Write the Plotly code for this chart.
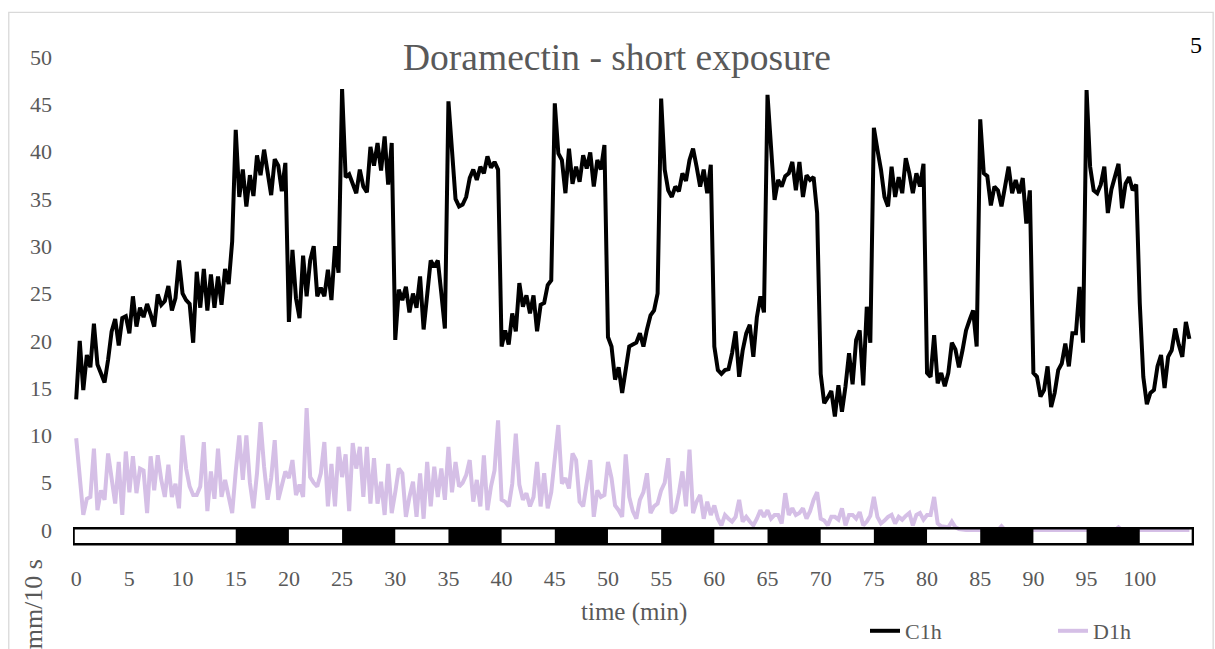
import plotly.graph_objects as go

# ---- data ----
SAMPLE_MIN = 1 / 3  # one sample every 20 s

c1h = [
    13.8, 20.0, 14.8, 18.5, 17.2, 21.8, 17.5, 16.4, 15.6, 18.0, 21.0, 22.3, 19.5, 22.4, 22.6,
    20.8, 24.7, 21.5, 23.5, 22.5, 23.9, 22.8, 21.5, 24.9, 23.8, 24.2, 25.8, 23.2, 24.5, 28.5,
    25.0, 24.3, 23.9, 19.8, 27.3, 23.5, 27.6, 23.2, 27.0, 23.5, 26.8, 23.8, 27.6, 26.0, 30.5,
    42.3, 35.2, 38.1, 34.2, 37.5, 35.3, 39.6, 37.5, 40.2, 37.5, 35.4, 39.2, 38.5, 35.8, 38.8,
    22.0, 29.6, 24.5, 22.4, 29.0, 24.7, 28.5, 30.0, 24.7, 25.6, 24.7, 27.5, 24.3, 30.0, 27.2,
    46.6, 37.3, 37.6, 36.6, 35.6, 38.1, 36.3, 35.7, 40.5, 38.5, 40.9, 38.0, 41.6, 36.5, 40.9,
    20.1, 25.4, 24.3, 25.7, 23.0, 25.0, 23.5, 26.8, 21.2, 25.0, 28.5, 27.8, 28.5, 25.0, 21.3,
    45.3, 39.8, 35.0, 34.2, 34.4, 35.2, 37.2, 38.1, 37.0, 38.4, 37.7, 39.5, 38.3, 38.9, 38.1,
    19.4, 21.1, 19.6, 22.9, 21.0, 26.1, 23.6, 24.8, 22.9, 24.8, 21.0, 23.8, 24.0, 25.9, 26.4,
    45.1, 39.8, 39.1, 35.6, 40.3, 36.6, 38.4, 36.8, 39.6, 38.2, 39.9, 36.3, 39.1, 38.1, 40.7,
    20.4, 19.4, 15.9, 17.2, 14.5, 16.8, 19.4, 19.6, 19.8, 20.8, 19.4, 21.2, 22.7, 23.2, 25.0,
    45.6, 38.1, 35.9, 35.2, 36.3, 35.8, 37.7, 36.9, 39.1, 40.3, 38.4, 36.3, 38.1, 35.6, 38.6,
    19.4, 16.9, 16.5, 16.9, 17.0, 18.7, 21.0, 16.2, 19.0, 20.8, 21.7, 18.3, 22.5, 24.7, 23.0,
    46.0, 39.8, 34.9, 37.0, 36.3, 37.4, 37.7, 38.9, 35.9, 38.9, 35.2, 37.5, 37.0, 37.3, 33.5,
    16.5, 13.4, 14.0, 14.7, 12.0, 15.3, 12.5, 15.2, 18.7, 15.4, 20.1, 21.1, 15.3, 23.6, 19.8,
    42.5, 40.2, 38.1, 35.2, 34.2, 38.4, 35.2, 37.3, 35.6, 39.3, 37.7, 35.6, 37.7, 36.3, 38.7,
    16.6, 16.2, 20.6, 15.5, 16.6, 15.2, 16.6, 19.8, 19.1, 17.2, 19.0, 21.1, 22.2, 23.2, 19.4,
    43.4, 37.7, 37.4, 34.3, 36.3, 35.9, 34.2, 36.3, 38.4, 35.6, 37.0, 35.6, 37.2, 32.4, 35.9,
    16.6, 16.2, 14.1, 14.8, 17.3, 13.0, 14.5, 16.9, 17.6, 19.7, 17.3, 20.8, 20.8, 25.7, 19.8,
    46.5, 38.4, 35.9, 35.6, 36.5, 38.4, 33.5, 36.0, 37.3, 38.7, 34.0, 36.6, 37.3, 35.9, 36.5,
    24.0, 16.2, 13.3, 14.5, 14.8, 17.3, 18.5, 15.0, 18.3, 19.0, 21.3, 19.6, 18.3, 22.0, 20.2,
]

d1h = [
    9.7, 5.0, 1.6, 3.3, 3.5, 8.6, 2.1, 4.2, 3.2, 8.1, 5.3, 2.8, 7.2, 1.6, 8.3,
    4.0, 7.8, 3.9, 6.5, 6.3, 1.8, 7.8, 4.2, 7.9, 5.3, 3.5, 6.9, 3.5, 4.9, 2.3,
    10.0, 6.5, 4.6, 3.7, 3.7, 4.6, 9.3, 2.0, 6.2, 3.3, 8.6, 3.5, 5.3, 3.7, 1.8,
    6.2, 10.0, 5.3, 10.0, 5.0, 2.3, 6.0, 11.4, 6.7, 3.2, 5.5, 9.5, 3.2, 4.6, 6.2,
    5.5, 7.4, 3.7, 4.8, 3.5, 12.9, 5.6, 5.0, 4.6, 6.0, 9.3, 2.5, 7.0, 2.5, 8.8,
    5.6, 8.0, 2.0, 9.2, 6.5, 8.8, 3.5, 8.8, 2.8, 7.6, 2.8, 5.1, 1.6, 7.0, 1.8,
    4.0, 6.5, 6.0, 1.4, 3.5, 5.1, 1.4, 6.0, 1.2, 7.2, 2.5, 6.7, 3.5, 6.5, 3.2,
    8.8, 4.0, 7.2, 4.6, 5.0, 5.8, 7.4, 3.0, 5.3, 2.5, 7.9, 2.1, 4.6, 6.3, 11.6,
    3.2, 3.0, 2.5, 4.9, 10.2, 4.8, 3.2, 3.9, 2.5, 3.5, 7.2, 2.5, 6.0, 2.3, 4.0,
    7.6, 11.1, 4.9, 5.5, 4.4, 8.1, 7.4, 3.0, 2.5, 4.9, 7.4, 1.4, 4.2, 3.5, 3.7,
    7.2, 5.5, 2.6, 2.1, 1.4, 8.0, 3.5, 2.0, 1.2, 3.2, 4.0, 6.0, 1.8, 2.5, 2.8,
    4.2, 5.0, 7.6, 1.8, 2.1, 3.9, 6.2, 2.5, 8.5, 1.8, 3.0, 3.7, 1.2, 3.0, 1.6,
    2.6, 1.2, 0.5, 1.6, 1.2, 0.9, 1.4, 3.2, 0.9, 1.4, 0.9, 0.5, 1.2, 2.1, 1.4,
    2.1, 1.2, 1.6, 1.6, 0.7, 3.9, 1.6, 2.3, 1.6, 1.8, 2.3, 1.2, 2.0, 3.2, 4.0,
    1.2, 1.0, 0.5, 1.4, 1.4, 1.1, 2.3, 0.5, 1.6, 1.6, 1.2, 1.9, 0.5, 0.9, 1.5,
    3.5, 1.4, 0.7, 1.0, 1.4, 1.6, 0.7, 1.4, 1.1, 1.5, 1.8, 0.5, 1.6, 1.8, 1.1,
    1.6, 1.6, 3.5, 0.7, 0.4, 0.3, 0.3, 0.9, 0.3, 0.1, 0.0, 0.0, 0.0, 0.0, 0.0,
    0.0, 0.0, 0.0, 0.0, 0.0, 0.0, 0.4, 0.0, 0.0, 0.0, 0.0, 0.0, 0.0, 0.0, 0.0,
    0.0, 0.0, 0.0, 0.0, 0.0, 0.0, 0.0, 0.0, 0.0, 0.0, 0.0, 0.0, 0.0, 0.0, 0.0,
    0.0, 0.0, 0.0, 0.0, 0.0, 0.0, 0.0, 0.0, 0.0, 0.3, 0.0, 0.0, 0.0, 0.0, 0.0,
    0.0, 0.0, 0.0, 0.0, 0.0, 0.0, 0.0, 0.0, 0.0, 0.0, 0.0, 0.0, 0.0, 0.0, 0.0,
]

time_min = [i * SAMPLE_MIN for i in range(len(c1h))]

dark_starts = [15, 25, 35, 45, 55, 65, 75, 85, 95]
DARK_LEN = 5
x_ticks = list(range(0, 101, 5))
y_ticks = list(range(0, 51, 5))

FONT = "Times New Roman, Liberation Serif, serif"
GREY = "#595959"

fig = go.Figure()
fig.add_trace(go.Scatter(x=time_min, y=d1h, name="D1h", mode="lines",
                         line=dict(color="#D5BFE6", width=4), legendrank=2))
fig.add_trace(go.Scatter(x=time_min, y=c1h, name="C1h", mode="lines",
                         line=dict(color="#000000", width=4), legendrank=1))

shapes = []
# outer chart border
shapes.append(dict(type="rect", xref="paper", yref="paper", x0=-0.0573, x1=1.0171,
                   y0=-0.3, y1=1.050, line=dict(color="#D9D9D9", width=1.3), layer="below"))
# light/dark strip
for s in dark_starts:
    shapes.append(dict(type="rect", xref="x", yref="y", x0=s, x1=s + DARK_LEN,
                       y0=-1.51, y1=0.18, fillcolor="black", line=dict(width=0), layer="above"))
shapes.append(dict(type="rect", xref="x", yref="y", x0=-0.25, x1=105.0,
                   y0=-1.51, y1=0.18, line=dict(color="black", width=2.5), layer="above"))

fig.update_layout(
    width=1215, height=649,
    margin=dict(l=72.8, r=20.7, t=38.1, b=100.1, autoexpand=False),
    paper_bgcolor="white", plot_bgcolor="white",
    font=dict(family=FONT, color=GREY, size=22),
    title=dict(text="Doramectin - short exposure", x=617 / 1215, xanchor="center",
               y=1 - 57 / 649, yanchor="middle", yref="container",
               font=dict(family=FONT, size=37.5, color=GREY)),
    xaxis=dict(range=[-0.3, 105.1], tickmode="array", tickvals=x_ticks,
               showgrid=False, zeroline=False, showline=False, ticks="", automargin=False,
               ticklabelstandoff=14, tickfont=dict(size=22, color=GREY)),
    yaxis=dict(range=[-2, 52], tickmode="array", tickvals=y_ticks,
               showgrid=False, zeroline=False, showline=False, ticks="", automargin=False,
               ticklabelstandoff=20, tickfont=dict(size=22, color=GREY)),
    legend=dict(orientation="h", xref="container", yref="container",
                x=865 / 1215, xanchor="left", y=1 - 631 / 649, yanchor="middle",
                font=dict(size=22, color=GREY), entrywidthmode="pixels", entrywidth=143,
                bgcolor="rgba(0,0,0,0)"),
    shapes=shapes,
    annotations=[
        dict(text="time (min)", xref="paper", yref="paper", x=(634 - 72.8) / 1121.5,
             y=(548.9 - 612) / 510.8, showarrow=False,
             font=dict(family=FONT, size=25, color=GREY), xanchor="center", yanchor="middle"),
        dict(text="5", xref="paper", yref="paper", x=1.0015, y=0.9865, showarrow=False,
             font=dict(family=FONT, size=24, color="black"), xanchor="center", yanchor="middle"),
        dict(text="mm/10 s", xref="paper", yref="paper", x=(33 - 72.8) / 1121.5,
             y=(548.9 - 604) / 510.8, showarrow=False,
             textangle=-90, font=dict(family=FONT, size=26, color=GREY),
             xanchor="center", yanchor="middle"),
    ],
)

fig.write_html("out.html", config={"displayModeBar": False},
               post_script="document.body.style.margin='0';document.body.style.overflow='hidden';")
